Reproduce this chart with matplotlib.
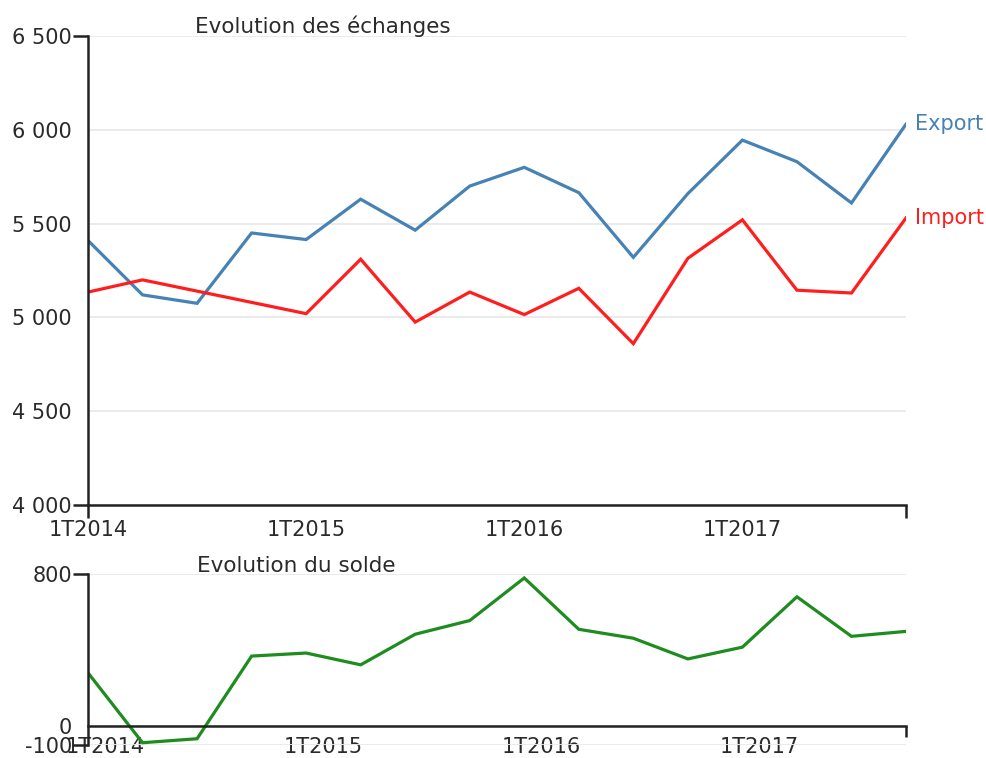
import matplotlib
matplotlib.use("Agg")
import matplotlib.pyplot as plt
import numpy as np
from matplotlib.transforms import ScaledTranslation

plt.rcParams['font.family'] = ['DejaVu Sans']

quarters = ["1T2014", "2T2014", "3T2014", "4T2014",
            "1T2015", "2T2015", "3T2015", "4T2015",
            "1T2016", "2T2016", "3T2016", "4T2016",
            "1T2017", "2T2017", "3T2017", "4T2017"]
export = [5410, 5120, 5075, 5450, 5415, 5630, 5465, 5700,
          5800, 5665, 5320, 5660, 5945, 5830, 5610, 6030]
imports = [5135, 5200, 5140, 5080, 5020, 5310, 4975, 5135,
           5015, 5155, 4860, 5315, 5520, 5145, 5130, 5530]
solde = [280, -88, -67, 368, 384, 322, 483, 555,
         779, 509, 462, 353, 415, 680, 472, 498]

top_yticks = [4000, 4500, 5000, 5500, 6000, 6500]
top_ylabels = ["4 000", "4 500", "5 000", "5 500", "6 000", "6 500"]
bot_yticks = [-100, 0, 800]
bot_ylabels = ["-100", "0", "800"]
year_ticks = ["1T2014", "1T2015", "1T2016", "1T2017"]

TXT = '#2a2a2a'
idx = np.arange(len(quarters))
year_pos = [quarters.index(q) for q in year_ticks]

fig = plt.figure(figsize=(9.87, 7.58), dpi=100)

# ---------- top chart ----------
ax1 = fig.add_axes([88/987, 253/758, 818/987, 469/758])
ax1.plot(idx, export, color='#4682B4', lw=2.3, solid_joinstyle='miter')
ax1.plot(idx, imports, color='#FF1E1E', lw=2.3, solid_joinstyle='miter')
ax1.set_xlim(0, len(quarters) - 1)
ax1.set_ylim(top_yticks[0], top_yticks[-1])
for s in ['top', 'right']:
    ax1.spines[s].set_visible(False)
for s in ['left', 'bottom']:
    ax1.spines[s].set_linewidth(1.8)
    ax1.spines[s].set_color('#222222')
ax1.yaxis.remove_overlapping_locs = False
ax1.xaxis.remove_overlapping_locs = False
ax1.set_yticks(top_yticks)
ax1.set_yticklabels(top_ylabels)
ax1.set_yticks([top_yticks[0], top_yticks[-1]], minor=True)
ax1.tick_params(axis='y', which='major', length=0, pad=11.5, labelsize=15, labelcolor=TXT)
ax1.tick_params(axis='y', which='minor', length=10.5, width=1.8, color='#222222')
ax1.set_xticks(year_pos)
ax1.set_xticklabels(year_ticks)
ax1.set_xticks([0, len(quarters) - 1], minor=True)
ax1.tick_params(axis='x', which='major', length=0, pad=11, labelsize=15, labelcolor=TXT)
ax1.tick_params(axis='x', which='minor', length=9.5, width=1.8, color='#222222')
ax1.yaxis.grid(True, which='major', color='#e9e9e9', lw=1.3)
ax1.set_axisbelow(True)

ax1.annotate("Export", (idx[-1], export[-1]), xytext=(9, 0), textcoords='offset pixels',
             color='#4682B4', fontsize=15, va='center', ha='left', annotation_clip=False)
ax1.annotate("Import", (idx[-1], imports[-1]), xytext=(9, 0), textcoords='offset pixels',
             color='#FF1E1E', fontsize=15, va='center', ha='left', annotation_clip=False)

fig.text(195/987, 1 - 33/758, "Evolution des échanges", fontsize=15.5, color=TXT,
         va='baseline', ha='left')

# ---------- bottom chart ----------
ax2 = fig.add_axes([88/987, 13/758, 818/987, 171/758])
ax2.plot(idx, solde, color='#1E8C1E', lw=2.3, solid_joinstyle='miter')
ax2.set_xlim(0, len(quarters) - 1)
ax2.set_ylim(bot_yticks[0], bot_yticks[-1])
for s in ['top', 'right']:
    ax2.spines[s].set_visible(False)
for s in ['left', 'bottom']:
    ax2.spines[s].set_linewidth(1.8)
    ax2.spines[s].set_color('#222222')
ax2.spines['bottom'].set_position(('data', 0))
ax2.yaxis.remove_overlapping_locs = False
ax2.xaxis.remove_overlapping_locs = False
ax2.set_yticks(bot_yticks)
ax2.set_yticklabels(bot_ylabels)
ax2.set_yticks([bot_yticks[0], bot_yticks[-1]], minor=True)
ax2.tick_params(axis='y', which='major', length=0, pad=11.5, labelsize=15, labelcolor=TXT)
ax2.tick_params(axis='y', which='minor', length=10.5, width=1.8, color='#222222')
ax2.set_xticks(year_pos)
ax2.set_xticklabels(year_ticks)
ax2.set_xticks([len(quarters) - 1], minor=True)
ax2.tick_params(axis='x', which='major', length=0, pad=8, labelsize=15, labelcolor=TXT)
ax2.tick_params(axis='x', which='minor', length=8, width=1.8, color='#222222')
ax2.yaxis.grid(True, which='major', color='#e9e9e9', lw=1.3)
ax2.set_axisbelow(True)
shift = ScaledTranslation(17/100, 0, fig.dpi_scale_trans)
for lbl in ax2.get_xticklabels():
    lbl.set_transform(lbl.get_transform() + shift)

fig.text(197/987, 1 - 572/758, "Evolution du solde", fontsize=15.5, color=TXT,
         va='baseline', ha='left')

fig.savefig("out.png", dpi=100)
